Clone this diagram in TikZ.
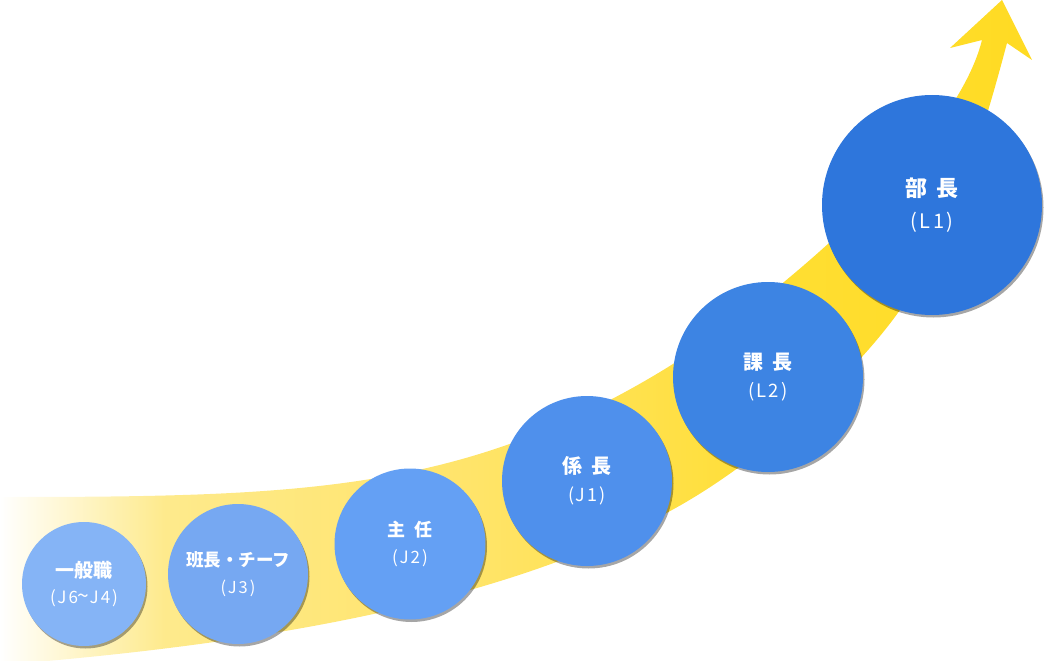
\documentclass[tikz,border=0pt]{standalone}
\usepackage{fontspec}
\newfontfamily\jpfont{Noto Sans CJK JP}
\newfontfamily\jpcode{Noto Sans CJK JP}[LetterSpace=12]
\usetikzlibrary{shadows}

% colours of the steps, light to dark
\definecolor{rankA}{RGB}{133,180,246}
\definecolor{rankB}{RGB}{118,168,242}
\definecolor{rankC}{RGB}{100,160,244}
\definecolor{rankD}{RGB}{79,144,236}
\definecolor{rankE}{RGB}{61,132,227}
\definecolor{rankF}{RGB}{46,118,220}
% colours of the yellow band
\definecolor{bandA}{RGB}{254,234,140}
\definecolor{bandB}{RGB}{255,228,105}
\definecolor{bandC}{RGB}{255,222,50}
\definecolor{bandD}{RGB}{255,219,35}

\pgfdeclarehorizontalshading{bandfade}{100bp}{color(0bp)=(white); color(25bp)=(white);
  color(33bp)=(bandA); color(48bp)=(bandB); color(63bp)=(bandC); color(75bp)=(bandD);
  color(100bp)=(bandD)}

\begin{document}
\begin{tikzpicture}[x=1pt, y=-1pt,
    rank/.style={circle, inner sep=0pt, text=white, align=center,
      drop shadow={shadow xshift=1.5pt, shadow yshift=-2.5pt, opacity=0.35, fill=black}}]

    \useasboundingbox (0,0) rectangle (1045,661);

    % =================================================================
    % 1. YELLOW BAND WITH ARROW HEAD
    % =================================================================
    \shade[shading=bandfade]
      (0,497) .. controls (300,497) and (460,492) .. (660,372)
      .. controls (750,318) and (953,156) .. (982,40)
      -- (950,48) -- (1002,0) -- (1032,60) -- (1007,43)
      .. controls (984,130) and (952,237) .. (900,310)
      .. controls (854,375) and (760,462) .. (672,510)
      .. controls (497,606) and (250,645) .. (0,665)
      -- cycle;

    % =================================================================
    % 2. STEPS (CIRCLES)
    % =================================================================
    \node[rank, fill=rankA, minimum size=124pt, font={\jpfont\fontsize{19}{26}\selectfont}]
      (ippan) at (84,584) {\textbf{一般職}\\{\jpcode\fontsize{17}{26}\selectfont (J6{\fontsize{21}{26}\selectfont\textasciitilde}J4)}};
    \node[rank, fill=rankB, minimum size=140pt, font={\jpfont\fontsize{17.5}{27}\selectfont}]
      (hancho) at (238,574) {\textbf{班長・チーフ}\\{\jpcode\fontsize{16.5}{27}\selectfont (J3)}};
    \node[rank, fill=rankC, minimum size=151pt, font={\jpfont\fontsize{18}{27}\selectfont}]
      (shunin) at (410,544) {\textbf{主\hspace{0.45em}任}\\{\jpcode\fontsize{17}{27}\selectfont (J2)}};
    \node[rank, fill=rankD, minimum size=170pt, font={\jpfont\fontsize{20}{28}\selectfont}]
      (kakaricho) at (587,481) {\textbf{係\hspace{0.45em}長}\\{\jpcode\fontsize{18}{28}\selectfont (J1)}};
    \node[rank, fill=rankE, minimum size=190pt, font={\jpfont\fontsize{20}{28}\selectfont}]
      (kacho) at (768,377) {\textbf{課\hspace{0.45em}長}\\{\jpcode\fontsize{18.5}{28}\selectfont (L2)}};
    \node[rank, fill=rankF, minimum size=220pt, font={\jpfont\fontsize{22}{32}\selectfont}]
      (bucho) at (932,205) {\textbf{部\hspace{0.45em}長}\\{\jpcode\fontsize{20}{32}\selectfont (L1)}};

\end{tikzpicture}
\end{document}
